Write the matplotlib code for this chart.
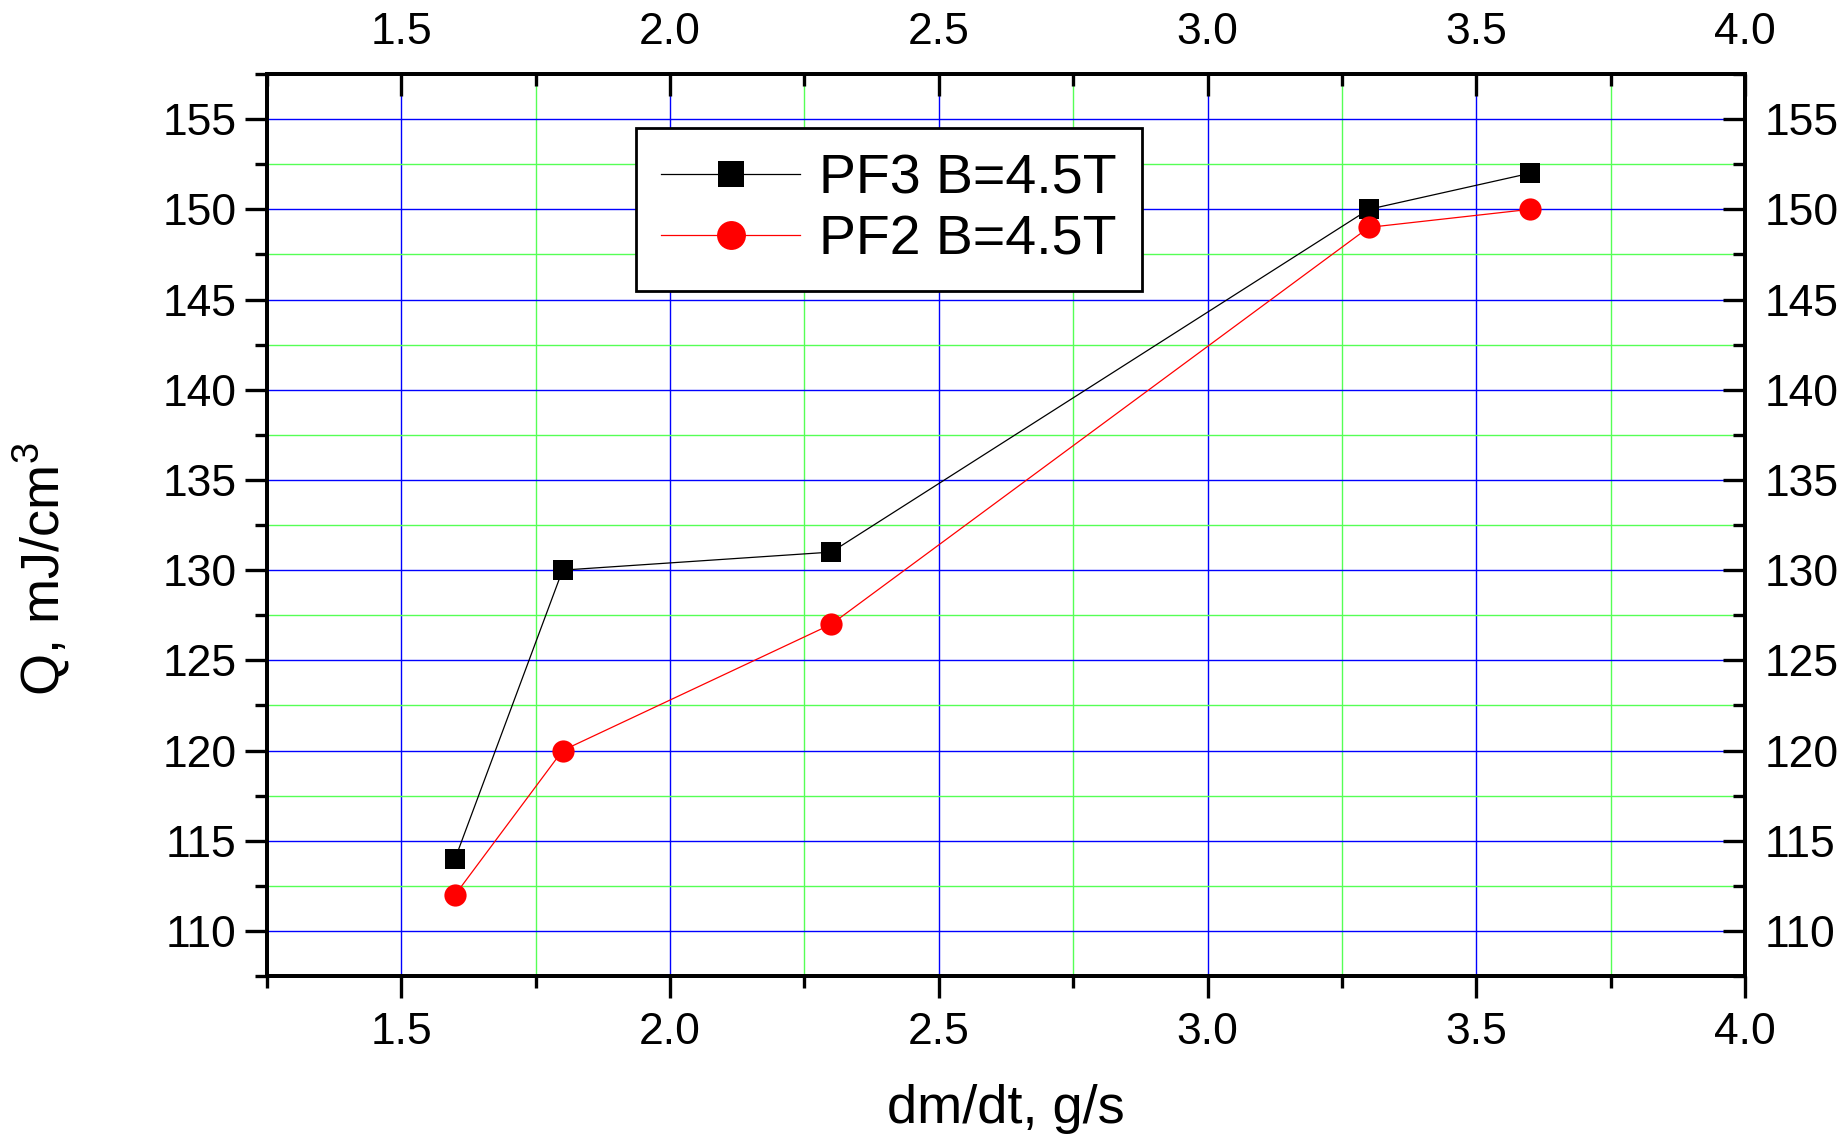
import matplotlib
matplotlib.use("Agg")
import matplotlib.pyplot as plt
from matplotlib.ticker import MultipleLocator, FormatStrFormatter

plt.rcParams['font.family'] = ['Liberation Sans', 'DejaVu Sans']
plt.rcParams['mathtext.fontset'] = 'custom'
plt.rcParams['mathtext.rm'] = 'Liberation Sans'

# Mass flow rate (g/s) and energy density (mJ/cm^3)
flow = [1.6, 1.8, 2.3, 3.3, 3.6]
q_pf3 = [114, 130, 131, 150, 152]
q_pf2 = [112, 120, 127, 149, 150]
label_pf3 = "PF3 B=4.5T"
label_pf2 = "PF2 B=4.5T"

fig = plt.figure(figsize=(18.4, 11.39), dpi=100)
ax = fig.add_axes([0.1451, 0.1431, 0.9484 - 0.1451, 0.935 - 0.1431])

ax.plot(flow, q_pf3, color='black', lw=0.9, marker='s', ms=14,
        markeredgewidth=0, label=label_pf3, zorder=5)
ax.plot(flow, q_pf2, color='red', lw=0.9, marker='o', ms=16,
        markeredgewidth=0, label=label_pf2, zorder=5)

xlim = (1.25, 4.0)
ylim = (107.5, 157.5)
ax.set_xlim(*xlim)
ax.set_ylim(*ylim)

ax.xaxis.set_major_locator(MultipleLocator(0.5))
ax.xaxis.set_minor_locator(MultipleLocator(0.25))
ax.yaxis.set_major_locator(MultipleLocator(5))
ax.yaxis.set_minor_locator(MultipleLocator(2.5))
ax.xaxis.set_major_formatter(FormatStrFormatter('%.1f'))

ax.grid(which='major', color='#0000ff', lw=1.0)
ax.grid(which='minor', color='#55ff55', lw=1.0)
ax.set_axisbelow(True)

spine_w = 2.6
for s in ax.spines.values():
    s.set_linewidth(spine_w)

tick_kw = dict(width=2.4, labelsize=32)
ax.tick_params(which='major', direction='out', length=16, pad=6, **tick_kw)
ax.tick_params(axis='x', which='major', pad=10)
ax.tick_params(which='minor', direction='out', length=8.5, width=2.4)

# Right axis: inward ticks with labels
axr = ax.twinx()
axr.set_ylim(*ylim)
axr.yaxis.set_major_locator(MultipleLocator(5))
axr.yaxis.set_minor_locator(MultipleLocator(2.5))
axr.tick_params(which='major', direction='in', length=16, pad=14, **tick_kw)
axr.tick_params(which='minor', direction='in', length=8.5, width=2.4)

# Top axis: inward ticks with labels
axt = ax.twiny()
axt.set_xlim(*xlim)
axt.xaxis.set_major_locator(MultipleLocator(0.5))
axt.xaxis.set_minor_locator(MultipleLocator(0.25))
axt.xaxis.set_major_formatter(FormatStrFormatter('%.1f'))
axt.tick_params(which='major', direction='in', length=16, pad=15.5, **tick_kw)
axt.tick_params(which='minor', direction='in', length=8.5, width=2.4)
for a in (axr, axt):
    for s in a.spines.values():
        s.set_linewidth(spine_w)

ax.set_xlabel("dm/dt, g/s", fontsize=39, labelpad=22)
ax.set_ylabel(r"Q, mJ/cm$^3$", fontsize=39)
ax.yaxis.set_label_coords(-0.132, 0.451)

handles, labels = ax.get_legend_handles_labels()
leg = axt.legend(handles, labels, loc='upper left',
                 bbox_to_anchor=(0.2497, 0.940), borderaxespad=0,
                 fontsize=40, markerscale=1.3, handlelength=2.5,
                 handletextpad=0.35, labelspacing=0.16, borderpad=0.45,
                 fancybox=False, framealpha=1, edgecolor='black')
leg.get_frame().set_linewidth(2.0)

fig.savefig("out.png", dpi=100)
